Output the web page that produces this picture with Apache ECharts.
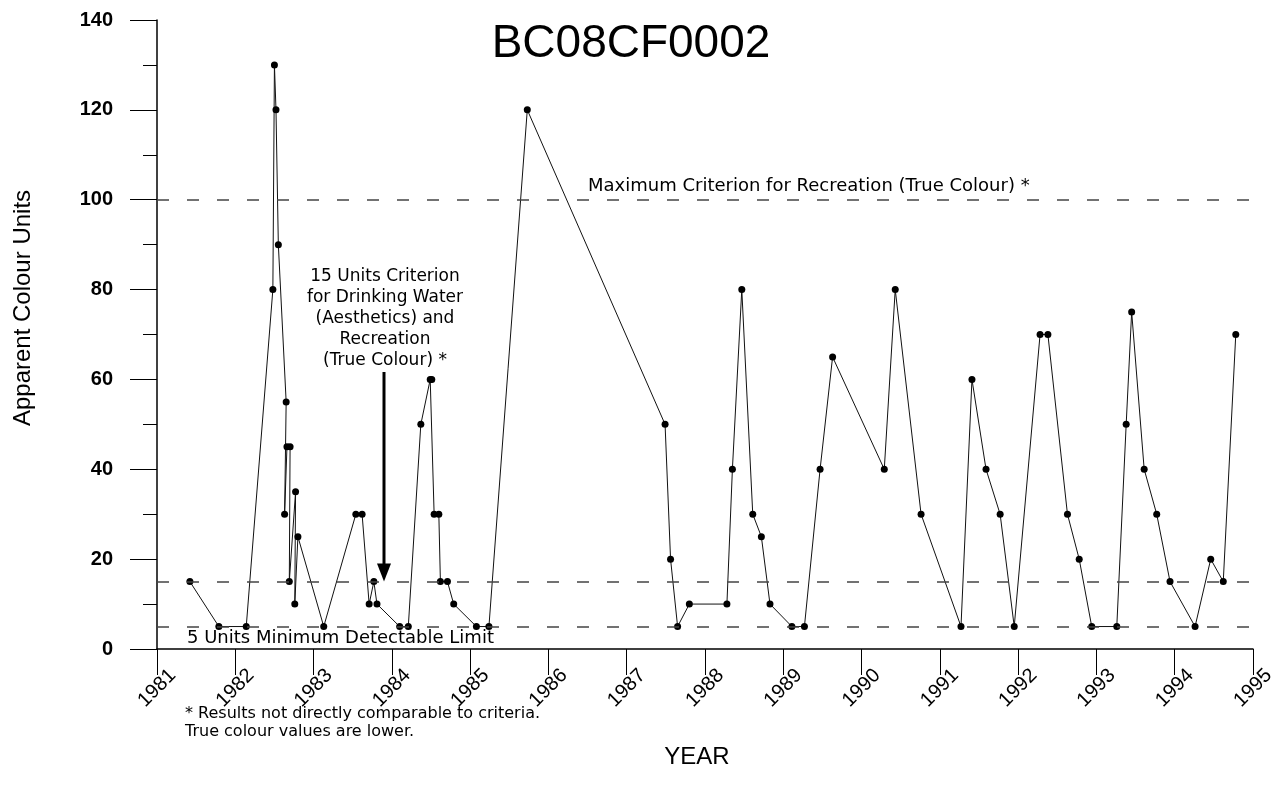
<!DOCTYPE html>
<html>
<head>
<meta charset="utf-8">
<script src="https://cdn.jsdelivr.net/npm/echarts@6/dist/echarts.min.js"></script>
<style>
html,body{margin:0;padding:0;background:#fff;}
#main{width:1279px;height:786px;}
</style>
</head>
<body>
<div id="main"></div>
<script>
// ---- data (decimal year of sample, apparent colour units) ----
const sampleYears = [
  1981.42, 1981.79, 1982.14, 1982.48, 1982.50, 1982.52, 1982.55, 1982.65, 1982.63, 1982.66,
  1982.70, 1982.69, 1982.77, 1982.76, 1982.80, 1983.13, 1983.54, 1983.62, 1983.71, 1983.77,
  1983.81, 1984.10, 1984.21, 1984.37, 1984.49, 1984.51, 1984.54, 1984.60, 1984.62, 1984.71,
  1984.79, 1985.08, 1985.24, 1985.73, 1987.49, 1987.56, 1987.65, 1987.80, 1988.28, 1988.35,
  1988.47, 1988.61, 1988.72, 1988.83, 1989.11, 1989.27, 1989.47, 1989.63, 1990.29, 1990.43,
  1990.76, 1991.27, 1991.41, 1991.59, 1991.77, 1991.95, 1992.28, 1992.38, 1992.63, 1992.78,
  1992.94, 1993.26, 1993.38, 1993.45, 1993.61, 1993.77, 1993.94, 1994.26, 1994.46, 1994.62,
  1994.78
];
const colourUnits = [
  15, 5, 5, 80, 130, 120, 90, 55, 30, 45,
  45, 15, 35, 10, 25, 5, 30, 30, 10, 15,
  10, 5, 5, 50, 60, 60, 30, 30, 15, 15,
  10, 5, 5, 120, 50, 20, 5, 10, 10, 40,
  80, 30, 25, 10, 5, 5, 40, 65, 40, 80,
  30, 5, 60, 40, 30, 5, 70, 70, 30, 20,
  5, 5, 50, 75, 40, 30, 15, 5, 20, 15,
  70
];
const criteriaLevels = [5, 15, 100];
const xRange = [1981, 1995];
const yRange = [0, 140];

const titleText = 'BC08CF0002';
const yAxisTitle = 'Apparent Colour Units';
const xAxisTitle = 'YEAR';
const maxCriterionText = 'Maximum Criterion for Recreation (True Colour) *';
const minLimitText = '5 Units Minimum Detectable Limit';
const drinkingText = '15 Units Criterion\nfor Drinking Water\n(Aesthetics) and\nRecreation\n(True Colour) *';
const footnoteText = '* Results not directly comparable to criteria.\nTrue colour values are lower.';
const arrowTarget = [1983.90, 15];

const FONT = '"Liberation Sans", Arial, sans-serif';
const NOTE_FONT = '"DejaVu Sans", "Liberation Sans", sans-serif';
const chart = echarts.init(document.getElementById('main'), null, {renderer: 'canvas'});

const option = {
  animation: false,
  backgroundColor: '#fff',
  grid: {left: 157, right: 26, top: 20, bottom: 137, containLabel: false, outerBoundsMode: 'none'},
  xAxis: {
    type: 'value', min: xRange[0], max: xRange[1], interval: 1,
    axisLine: {show: true, onZero: false, lineStyle: {color: '#000', width: 1.5}},
    axisTick: {show: true, length: 26, lineStyle: {color: '#000', width: 1}},
    splitLine: {show: false},
    axisLabel: {
      show: true, rotate: 45, align: 'center', verticalAlign: 'middle', margin: 39,
      fontSize: 20, fontFamily: FONT, color: '#000', hideOverlap: false,
      formatter: v => String(v)
    }
  },
  yAxis: {
    type: 'value', min: yRange[0], max: yRange[1], interval: 20,
    axisLine: {show: true, lineStyle: {color: '#000', width: 1.5}},
    axisTick: {show: true, length: 27, lineStyle: {color: '#000', width: 1}},
    minorTick: {show: true, splitNumber: 2, length: 14, lineStyle: {color: '#000', width: 1}},
    splitLine: {show: false},
    minorSplitLine: {show: false},
    axisLabel: {fontSize: 20, fontWeight: 'bold', fontFamily: FONT, color: '#000', margin: 44}
  },
  series: [{
    type: 'line',
    data: sampleYears.map((y, i) => [y, colourUnits[i]]),
    symbol: 'circle', symbolSize: 7,
    itemStyle: {color: '#000'},
    lineStyle: {color: '#111', width: 1},
    z: 3,
    markLine: {
      silent: true, symbol: 'none', animation: false,
      label: {show: false},
      lineStyle: {color: '#444', width: 1.5, type: [12, 18]},
      data: criteriaLevels.map(v => ({yAxis: v}))
    }
  }]
};
chart.setOption(option);

const px = (x, y) => chart.convertToPixel({gridIndex: 0}, [x, y]);
const p100 = px(xRange[0], 100);
const p5 = px(xRange[0], 5);
const pArrow = px(arrowTarget[0], arrowTarget[1]);
const ax = Math.round(pArrow[0]);
const tipY = pArrow[1];

chart.setOption({
  graphic: [
    {type: 'text', x: 631, y: 44,
     style: {text: titleText, font: '46px ' + FONT, fill: '#000', align: 'center', verticalAlign: 'middle'}},
    {type: 'text', x: 23, y: 308, rotation: Math.PI / 2,
     style: {text: yAxisTitle, font: '24px ' + FONT, fill: '#000', align: 'center', verticalAlign: 'middle'}},
    {type: 'text', x: 697, y: 757,
     style: {text: xAxisTitle, font: '24px ' + FONT, fill: '#000', align: 'center', verticalAlign: 'middle'}},
    {type: 'text', x: 588, y: p100[1] - 13,
     style: {text: maxCriterionText, font: '18px ' + NOTE_FONT, fill: '#000', align: 'left', verticalAlign: 'middle'}},
    {type: 'text', x: 187, y: p5[1] + 12,
     style: {text: minLimitText, font: '18px ' + NOTE_FONT, fill: '#000', align: 'left', verticalAlign: 'middle'}},
    {type: 'text', x: ax + 1, y: 266,
     style: {text: drinkingText, font: '17px ' + NOTE_FONT, lineHeight: 21, fill: '#000', align: 'center', verticalAlign: 'top'}},
    {type: 'line', shape: {x1: ax, y1: 372, x2: ax, y2: tipY - 14}, style: {stroke: '#000', lineWidth: 3}},
    {type: 'polygon', shape: {points: [[ax - 7, tipY - 18], [ax + 7, tipY - 18], [ax, tipY]]}, style: {fill: '#000'}},
    {type: 'text', x: 185, y: 705,
     style: {text: footnoteText, font: '16px ' + NOTE_FONT, lineHeight: 18, fill: '#000', align: 'left', verticalAlign: 'top'}}
  ]
});
</script>
</body>
</html>
